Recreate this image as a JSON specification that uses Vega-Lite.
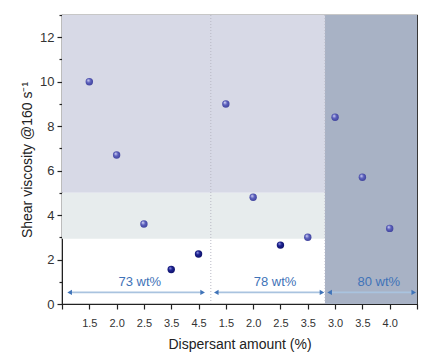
{
  "$schema": "https://vega.github.io/schema/vega-lite/v6.json",
  "width": 355,
  "height": 289,
  "autosize": {"type": "none"},
  "padding": {"left": 62, "top": 15, "right": 12, "bottom": 56},
  "config": {
    "font": "Liberation Sans",
    "view": {"stroke": "#222", "strokeWidth": 1.2},
    "axis": {"labelOverlap": false}
  },
  "datasets": {
    "bg": [
      {"x": 0, "x2": 9.63, "y": 5, "y2": 13, "c": "#d7d9e6"},
      {"x": 0, "x2": 9.63, "y": 2.93, "y2": 5, "c": "#e7eced"},
      {"x": 9.63, "x2": 13, "y": 0, "y2": 13, "c": "#a8b2c5"}
    ],
    "vlines": [
      {"x": 5.45, "y": 0, "y2": 13},
      {"x": 9.63, "y": 0, "y2": 13}
    ],
    "pts": [
      {"x": 1, "y": 10.0, "kind": "light"},
      {"x": 2, "y": 6.7, "kind": "light"},
      {"x": 3, "y": 3.6, "kind": "light"},
      {"x": 4, "y": 1.55, "kind": "dark"},
      {"x": 5, "y": 2.25, "kind": "dark"},
      {"x": 6, "y": 9.0, "kind": "light"},
      {"x": 7, "y": 4.8, "kind": "light"},
      {"x": 8, "y": 2.65, "kind": "dark"},
      {"x": 9, "y": 3.0, "kind": "light"},
      {"x": 10, "y": 8.4, "kind": "light"},
      {"x": 11, "y": 5.7, "kind": "light"},
      {"x": 12, "y": 3.4, "kind": "light"}
    ],
    "arrows": [
      {"x": 0.28, "x2": 5.15, "y": 0.52},
      {"x": 5.65, "x2": 9.52, "y": 0.52},
      {"x": 9.8, "x2": 12.88, "y": 0.52}
    ],
    "heads": [
      {"x": 0.28, "y": 0.52, "dir": "left"},
      {"x": 5.15, "y": 0.52, "dir": "right"},
      {"x": 5.65, "y": 0.52, "dir": "left"},
      {"x": 9.52, "y": 0.52, "dir": "right"},
      {"x": 9.8, "y": 0.52, "dir": "left"},
      {"x": 12.88, "y": 0.52, "dir": "right"}
    ],
    "labels": [
      {"x": 2.85, "y": 0.52, "label": "73 wt%"},
      {"x": 7.8, "y": 0.52, "label": "78 wt%"},
      {"x": 11.6, "y": 0.52, "label": "80 wt%"}
    ]
  },
  "encoding": {
    "x": {"field": "x", "type": "quantitative", "scale": {"domain": [0, 13], "nice": false, "zero": false},
      "axis": {"values": [0,1,2,3,4,5,6,7,8,9,10,11,12,13],
        "labelExpr": "['','1.5','2.0','2.5','3.5','4.5','1.5','2.0','2.5','3.5','3.0','3.5','4.0',''][datum.value]",
        "labelOverlap": false,
        "grid": false, "domain": true, "domainColor": "#222", "tickColor": "#222", "tickSize": 5, "tickWidth": 1.2,
        "labelFontSize": 11, "labelColor": "#333", "labelPadding": 8, "labelFlush": false,
        "title": "Dispersant amount (%)", "titleFontSize": 14, "titleFontWeight": "normal", "titleColor": "#222", "titlePadding": 9}},
    "y": {"field": "y", "type": "quantitative", "scale": {"domain": [0, 13], "nice": false},
      "axis": {"values": [0,1,2,3,4,5,6,7,8,9,10,11,12,13],
        "labelExpr": "datum.value % 2 === 0 && datum.value <= 12 ? datum.label : ''",
        "labelOverlap": false,
        "grid": false, "domainColor": "#222", "tickColor": "#222", "tickWidth": 1.2,
        "tickSize": {"condition": {"test": "datum.value % 2 === 1", "value": 3}, "value": 5},
        "labelFontSize": 13, "labelColor": "#333", "labelPadding": 3,
        "title": "Shear viscosity @160 s⁻¹", "titleFontSize": 14, "titleFontWeight": "normal", "titleColor": "#222", "titlePadding": 5}}
  },
  "layer": [
    {
      "data": {"name": "bg"},
      "mark": {"type": "rect"},
      "encoding": {
        "x2": {"field": "x2"},
        "y2": {"field": "y2"},
        "color": {"field": "c", "type": "nominal", "scale": null}
      }
    },
    {
      "data": {"name": "vlines"},
      "mark": {"type": "rule", "color": "#b8b8c4", "strokeDash": [1, 2], "strokeWidth": 1},
      "encoding": {"y2": {"field": "y2"}}
    },
    {
      "data": {"name": "arrows"},
      "mark": {"type": "rule", "color": "#a9c3df", "strokeWidth": 1.8},
      "encoding": {"x2": {"field": "x2"}}
    },
    {
      "data": {"name": "heads"},
      "mark": {"type": "point", "filled": true, "color": "#3f73b8", "size": 28, "opacity": 1},
      "encoding": {
        "shape": {"field": "dir", "type": "nominal", "scale": {"domain": ["left", "right"], "range": ["triangle-left", "triangle-right"]}, "legend": null}
      }
    },
    {
      "data": {"name": "labels"},
      "mark": {"type": "text", "color": "#3f73b8", "fontSize": 13, "baseline": "bottom", "dy": -3},
      "encoding": {"text": {"field": "label"}}
    },
    {
      "data": {"name": "pts"},
      "transform": [{"filter": "datum.kind === 'light'"}],
      "mark": {"type": "point", "filled": true, "size": 55, "opacity": 1,
        "color": {"gradient": "radial", "x1": 0.35, "y1": 0.3, "r1": 0.05, "x2": 0.5, "y2": 0.5, "r2": 0.6,
          "stops": [{"offset": 0, "color": "#c8caf0"}, {"offset": 0.4, "color": "#5c60bd"}, {"offset": 1, "color": "#3a3d95"}]}}
    },
    {
      "data": {"name": "pts"},
      "transform": [{"filter": "datum.kind === 'dark'"}],
      "mark": {"type": "point", "filled": true, "size": 55, "opacity": 1,
        "color": {"gradient": "radial", "x1": 0.35, "y1": 0.3, "r1": 0.05, "x2": 0.5, "y2": 0.5, "r2": 0.6,
          "stops": [{"offset": 0, "color": "#8f93e0"}, {"offset": 0.35, "color": "#1c2192"}, {"offset": 1, "color": "#0d1060"}]}}
    }
  ]
}
